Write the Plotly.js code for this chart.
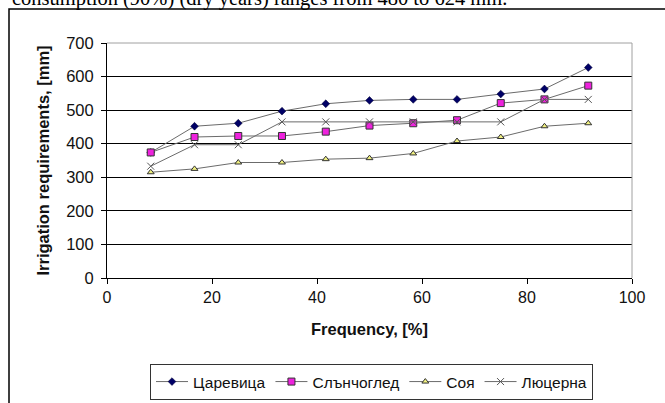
<!DOCTYPE html>
<html>
<head>
<meta charset="utf-8">
<script src="https://cdn.plot.ly/plotly-3.0.1.min.js"></script>
<style>
html,body{margin:0;padding:0;background:#fff;}
#chart{width:665px;height:403px;}
</style>
</head>
<body>
<div id="chart"></div>
<script>
const frequency = [8.33, 16.67, 25, 33.33, 41.67, 50, 58.33, 66.67, 75, 83.33, 91.67];
const seriesNames = ["Царевица", "Слънчоглед", "Соя", "Люцерна"];
const tsarevitsa = [374, 452, 461, 497, 519, 529, 532, 532, 548, 563, 627];
const slanchogled = [374, 420, 423, 423, 436, 454, 461, 470, 521, 532, 573];
const soya = [315, 325, 344, 344, 354, 357, 371, 408, 420, 452, 461];
const lyutserna = [333, 397, 397, 465, 465, 465, 465, 465, 465, 532, 532];
const xTicks = [0, 20, 40, 60, 80, 100];
const yTicks = [0, 100, 200, 300, 400, 500, 600, 700];
const headerText = "consumption (90%) (dry years) ranges from 480 to 624 mm.";

const lineStyle = {color: "#6b6b6b", width: 1};
const traces = [
  {x: frequency, y: tsarevitsa, name: seriesNames[0], mode: "lines+markers", line: lineStyle,
   marker: {symbol: "diamond", size: 6, color: "#000066", line: {color: "#000033", width: 0.5}}},
  {x: frequency, y: slanchogled, name: seriesNames[1], mode: "lines+markers", line: lineStyle,
   marker: {symbol: "square", size: 7, color: "#ee22dd", line: {color: "#333333", width: 1}}},
  {x: frequency, y: soya, name: seriesNames[2], mode: "lines+markers", line: lineStyle,
   marker: {symbol: "triangle-up", size: 6, color: "#f0f080", line: {color: "#333333", width: 1}}},
  {x: frequency, y: lyutserna, name: seriesNames[3], mode: "lines+markers", line: lineStyle,
   marker: {symbol: "x-thin", size: 7, color: "#555555", line: {color: "#555555", width: 1}}}
];

const W = 525, H = 235;
const layout = {
  width: 665, height: 403,
  margin: {l: 107, r: 33, t: 43, b: 125, pad: 0, autoexpand: false},
  paper_bgcolor: "#ffffff",
  plot_bgcolor: "#ffffff",
  font: {family: "Liberation Sans, Arial, sans-serif", size: 15, color: "#111"},
  showlegend: true,
  legend: {
    orientation: "h", xref: "container", yref: "container",
    x: 150 / 665, y: 1 - 364 / 403, xanchor: "left", yanchor: "top",
    bordercolor: "#333", borderwidth: 1, bgcolor: "#fff",
    font: {size: 15.5, color: "#111"}, itemwidth: 32, tracegroupgap: 0
  },
  xaxis: {
    range: [0, 100], tickvals: xTicks, ticktext: xTicks.map(String),
    showgrid: false, zeroline: false, showline: true, linecolor: "#000", linewidth: 1,
    ticks: "outside", ticklen: 5, tickcolor: "#000", tickfont: {size: 16},
    title: {text: "<b>Frequency, [%]</b>", font: {size: 16.5}, standoff: 18}
  },
  yaxis: {
    range: [0, 700], tickvals: yTicks, ticktext: yTicks.map(String),
    showgrid: true, gridcolor: "#000", gridwidth: 1, zeroline: false,
    showline: true, linecolor: "#000", linewidth: 1,
    ticks: "outside", ticklen: 5, tickcolor: "#000", tickfont: {size: 16.5},
    ticklabelstandoff: 4,
    title: {text: "<b>Irrigation requirements, [mm]</b>", font: {size: 16.5}, standoff: 12}
  },
  shapes: [
    {type: "line", xref: "paper", yref: "paper", x0: 0, x1: 1, y0: 1, y1: 1,
     line: {color: "#a0a0a0", width: 1}, layer: "above"},
    {type: "line", xref: "paper", yref: "paper", x0: 1, x1: 1, y0: 0, y1: 1,
     line: {color: "#a0a0a0", width: 1}, layer: "above"},
    {type: "rect", xref: "paper", yref: "paper",
     x0: (9 - 107) / W, x1: 1.25, y0: 1 + (43 - 9) / H, y1: -0.7,
     line: {color: "#000", width: 1.5}, layer: "below"}
  ],
  annotations: [
    {text: headerText, xref: "paper", yref: "paper", x: (10 - 107) / W, y: 1 + (43 + 2) / H,
     xanchor: "left", yanchor: "middle", showarrow: false,
     font: {family: "Liberation Serif, Times New Roman, serif", size: 20.5, color: "#000"}}
  ]
};

Plotly.newPlot("chart", traces, layout, {displayModeBar: false, staticPlot: true});
</script>
</body>
</html>
